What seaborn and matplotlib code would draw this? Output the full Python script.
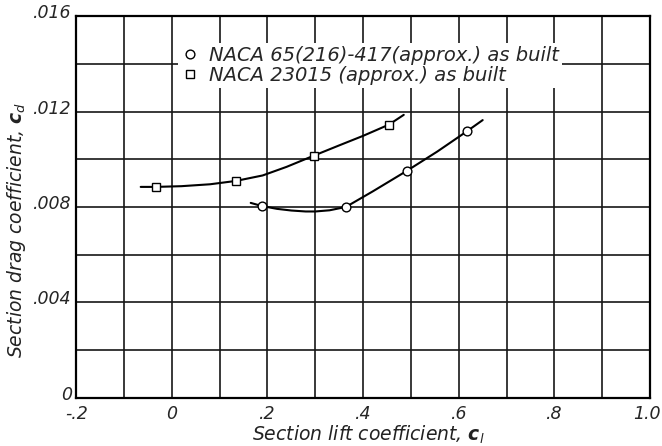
import numpy as np
import pandas as pd
import matplotlib
matplotlib.use("Agg")
import matplotlib.pyplot as plt
import matplotlib.transforms as mtrans
import seaborn as sns

naca65_cl = [0.188, 0.364, 0.492, 0.617]
naca65_cd = [0.00804, 0.00800, 0.00952, 0.01117]
naca230_cl = [-0.033, 0.134, 0.297, 0.454]
naca230_cd = [0.00884, 0.00909, 0.01015, 0.01145]

# faired curves as drawn on the chart
fair65_cl = [0.165, 0.188, 0.22, 0.25, 0.28, 0.30, 0.33, 0.364, 0.42, 0.492, 0.555, 0.617, 0.65]
fair65_cd = [0.00817, 0.00804, 0.00792, 0.00785, 0.00781, 0.00781, 0.00786, 0.00800,
             0.00865, 0.00952, 0.01032, 0.01117, 0.01164]
fair230_cl = [-0.065, -0.033, 0.02, 0.08, 0.134, 0.19, 0.24, 0.297, 0.35, 0.40, 0.454, 0.485]
fair230_cd = [0.00884, 0.00884, 0.00887, 0.00895, 0.00909, 0.00932, 0.00968, 0.01015,
              0.01058, 0.01098, 0.01145, 0.01186]

lab65 = "NACA 65(216)-417(approx.) as built"
lab230 = "NACA 23015 (approx.) as built"

xticks = [-0.2, 0, 0.2, 0.4, 0.6, 0.8, 1.0]
xticklabels = ["-.2", "0", ".2", ".4", ".6", ".8", "1.0"]
yticks = [0, 0.004, 0.008, 0.012, 0.016]
yticklabels = ["0", ".004", ".008", ".012", ".016"]

sns.set_style("white")
plt.rcParams["font.family"] = ["DejaVu Sans"]
plt.rcParams["font.style"] = "italic"
plt.rcParams["mathtext.fontset"] = "dejavusans"

fig = plt.figure(figsize=(6.62, 4.46), dpi=100)
ax = fig.add_axes([0.115, 0.108, 0.867, 0.856])

# grid
ax.set_xlim(-0.2, 1.0)
ax.set_ylim(0, 0.016)
ax.set_xticks(np.arange(-0.2, 1.01, 0.1), minor=True)
ax.set_yticks(np.arange(0, 0.0161, 0.002), minor=True)
ax.grid(True, which="both", color="#161616", linewidth=1.2)
ax.set_axisbelow(True)
ax.tick_params(which="both", length=0)

# faired curves
sns.lineplot(x=fair65_cl, y=fair65_cd, ax=ax, color="black", linewidth=1.5, sort=False,
             estimator=None, zorder=3)
sns.lineplot(x=fair230_cl, y=fair230_cd, ax=ax, color="black", linewidth=1.5, sort=False,
             estimator=None, zorder=3)

# test points
ax.plot(naca65_cl, naca65_cd, "o", ms=6.3, mfc="white", mec="black", mew=1.0,
        label=lab65, zorder=4)
ax.plot(naca230_cl, naca230_cd, "s", ms=5.8, mfc="white", mec="black", mew=1.0,
        label=lab230, zorder=4)

ax.set_xticks(xticks)
ax.set_xticklabels(xticklabels, fontsize=12.5)
ax.set_yticks(yticks)
ax.set_yticklabels(yticklabels, fontsize=12.5)
ax.tick_params(axis="x", pad=5)
ax.tick_params(axis="y", pad=3)

# y labels sit a little above their lines, last x label nudged in
for lbl in ax.get_yticklabels():
    lbl.set_transform(lbl.get_transform() + mtrans.ScaledTranslation(0, 5 / 100, fig.dpi_scale_trans))
xl = ax.get_xticklabels()
xl[-1].set_transform(xl[-1].get_transform() + mtrans.ScaledTranslation(-3 / 100, 0, fig.dpi_scale_trans))

ax.set_xlabel(r"Section lift coefficient, $\mathbf{c}_{\mathit{l}}$", fontsize=13.5,
              color="#222222")
ax.set_ylabel(r"Section drag coefficient, $\mathbf{c}_{\mathit{d}}$", fontsize=13.5,
              color="#222222")
ax.xaxis.set_label_coords(0.51, -0.068)
ax.yaxis.set_label_coords(-0.083, 0.44)

for s in ax.spines.values():
    s.set_color("black")
    s.set_linewidth(1.6)

leg = ax.legend(loc="upper left", bbox_to_anchor=(0.178, 0.93), frameon=True,
                fontsize=14, handletextpad=0.55, borderpad=0.15, labelspacing=0.05,
                handlelength=0.9, borderaxespad=0)
leg.get_frame().set_facecolor("white")
leg.get_frame().set_edgecolor("none")
leg.get_frame().set_alpha(1)
leg.set_zorder(5)

fig.savefig("out.png", dpi=100)
